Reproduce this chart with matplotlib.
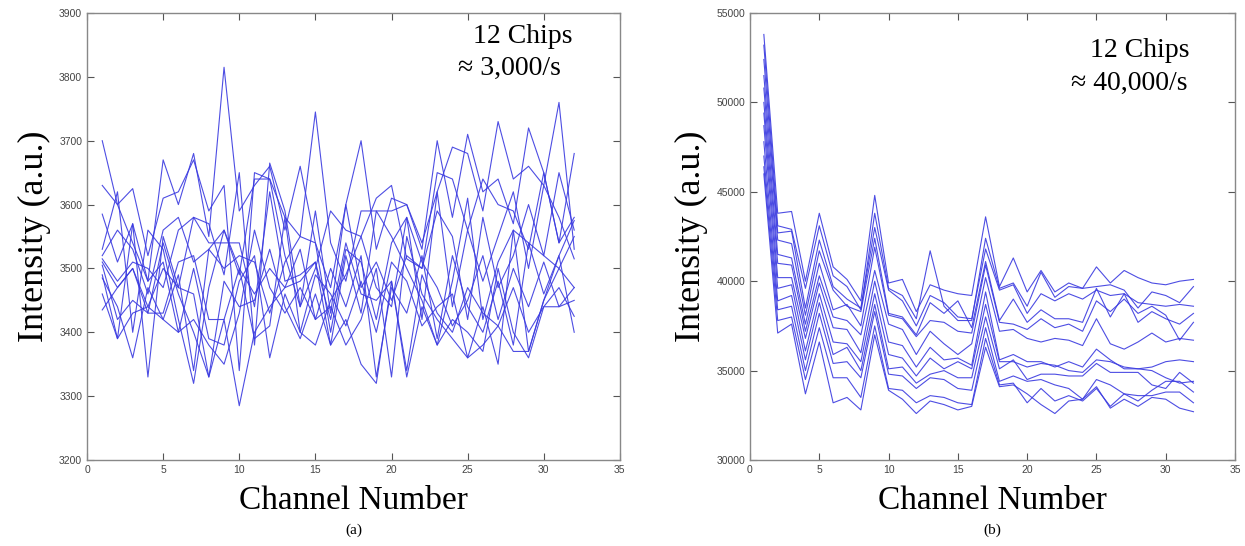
import numpy as np
import matplotlib.pyplot as plt

channels = list(range(1, 33))

# (a) 12 chips, ~3,000/s
chips_a = [
    [3700, 3600, 3540, 3480, 3670, 3600, 3680, 3550, 3815, 3590, 3630, 3660, 3560, 3660, 3540, 3470, 3600, 3700, 3530, 3610, 3600, 3530, 3700, 3580, 3710, 3620, 3640, 3570, 3720, 3650, 3540, 3680],
    [3630, 3600, 3625, 3520, 3610, 3620, 3670, 3590, 3630, 3340, 3650, 3640, 3580, 3550, 3745, 3540, 3480, 3590, 3590, 3590, 3600, 3540, 3620, 3690, 3680, 3590, 3730, 3640, 3660, 3630, 3760, 3530],
    [3585, 3510, 3570, 3330, 3550, 3470, 3580, 3570, 3490, 3650, 3380, 3665, 3590, 3440, 3500, 3590, 3560, 3550, 3610, 3630, 3515, 3500, 3650, 3640, 3560, 3640, 3600, 3590, 3530, 3650, 3540, 3580],
    [3530, 3620, 3400, 3560, 3530, 3420, 3320, 3470, 3560, 3490, 3640, 3640, 3520, 3440, 3590, 3430, 3600, 3470, 3510, 3450, 3520, 3500, 3590, 3550, 3420, 3580, 3470, 3520, 3600, 3520, 3650, 3560],
    [3520, 3560, 3530, 3460, 3560, 3580, 3510, 3530, 3500, 3520, 3510, 3430, 3510, 3550, 3540, 3400, 3530, 3510, 3420, 3540, 3580, 3420, 3620, 3440, 3560, 3480, 3550, 3620, 3500, 3630, 3580, 3515],
    [3515, 3480, 3510, 3500, 3470, 3560, 3580, 3540, 3540, 3540, 3440, 3620, 3480, 3490, 3510, 3380, 3520, 3430, 3590, 3550, 3500, 3450, 3380, 3480, 3610, 3420, 3510, 3560, 3540, 3520, 3500, 3470],
    [3510, 3470, 3500, 3430, 3430, 3510, 3520, 3420, 3420, 3500, 3390, 3410, 3580, 3400, 3380, 3450, 3490, 3550, 3470, 3440, 3580, 3510, 3470, 3410, 3450, 3520, 3420, 3500, 3440, 3510, 3440, 3450],
    [3490, 3390, 3570, 3480, 3510, 3400, 3500, 3390, 3380, 3480, 3520, 3360, 3460, 3400, 3490, 3460, 3410, 3480, 3400, 3510, 3480, 3410, 3440, 3460, 3360, 3440, 3350, 3560, 3370, 3450, 3520, 3400],
    [3485, 3440, 3360, 3470, 3420, 3490, 3340, 3530, 3560, 3500, 3460, 3500, 3470, 3530, 3420, 3500, 3440, 3520, 3330, 3470, 3430, 3520, 3390, 3520, 3440, 3400, 3480, 3380, 3540, 3460, 3520, 3575],
    [3435, 3470, 3500, 3440, 3500, 3470, 3460, 3330, 3420, 3285, 3400, 3440, 3470, 3480, 3510, 3420, 3540, 3460, 3450, 3480, 3340, 3490, 3430, 3400, 3470, 3430, 3410, 3470, 3400, 3440, 3470, 3425],
    [3505, 3420, 3450, 3430, 3540, 3460, 3400, 3330, 3480, 3440, 3450, 3530, 3440, 3390, 3460, 3380, 3420, 3350, 3320, 3480, 3330, 3440, 3380, 3420, 3400, 3370, 3500, 3400, 3360, 3440, 3440, 3470],
    [3460, 3390, 3430, 3440, 3420, 3400, 3420, 3380, 3350, 3430, 3560, 3470, 3430, 3470, 3420, 3440, 3380, 3420, 3500, 3330, 3550, 3460, 3420, 3390, 3360, 3380, 3410, 3370, 3370, 3450, 3500, 3550],
]

# (b) 12 chips, ~40,000/s
chips_b = [
    [53800, 43800, 43900, 40000, 43800, 40800, 40100, 38900, 44800, 39900, 40100, 38300, 39800, 39500, 39300, 39200, 43600, 39700, 41300, 39400, 40600, 39400, 39900, 39600, 40800, 39900, 40600, 40200, 39900, 39800, 40000, 40100],
    [53200, 43100, 42900, 39600, 43100, 40300, 39700, 38400, 43800, 39600, 39200, 37900, 41700, 38600, 37800, 37800, 42400, 39600, 39900, 38600, 40500, 39100, 39700, 39600, 39700, 39800, 39500, 38500, 39400, 39200, 38800, 39700],
    [52400, 42700, 42800, 38500, 42300, 39700, 39000, 38500, 43000, 39500, 38900, 37500, 39200, 38800, 38000, 37900, 41800, 39500, 39800, 38200, 39300, 38900, 39300, 39000, 39500, 39200, 39300, 38800, 38700, 38600, 38700, 38600],
    [51500, 42300, 42100, 38100, 41700, 39500, 38600, 38300, 42400, 38200, 38000, 37000, 38800, 38200, 38900, 37400, 41100, 37800, 39000, 37700, 38400, 37900, 37900, 37700, 39600, 38000, 39300, 37700, 38300, 37900, 37600, 38200],
    [50800, 41500, 41300, 37600, 41000, 38400, 38700, 37500, 41900, 38100, 37900, 36900, 37800, 37700, 37200, 37100, 40900, 37700, 37600, 37300, 37900, 37400, 37600, 37200, 38900, 38300, 39000, 38200, 38600, 38100, 36700, 37700],
    [50000, 41000, 40900, 37200, 40300, 38000, 37800, 37000, 40600, 37600, 37300, 35900, 37200, 36500, 35900, 36500, 40200, 37200, 37300, 36800, 36600, 36800, 36700, 36400, 37900, 36500, 36200, 36600, 37100, 36600, 36800, 36700],
    [49400, 40200, 40200, 36800, 39900, 37400, 37300, 36000, 40000, 36600, 36400, 35200, 36300, 35600, 35700, 35300, 39400, 35600, 35900, 35500, 35500, 35200, 35500, 35200, 36200, 35600, 35100, 35100, 35200, 35500, 35600, 35500],
    [48700, 39600, 39800, 36100, 39300, 36600, 36500, 35500, 39300, 35900, 35700, 34700, 35700, 35100, 35500, 35100, 38700, 35500, 35500, 35200, 35400, 35300, 35000, 34900, 35600, 35500, 35200, 35100, 35000, 34600, 34300, 34400],
    [47800, 38900, 39200, 35600, 38800, 35900, 36300, 35000, 38700, 35100, 35200, 34300, 34800, 35000, 34600, 34600, 38000, 35100, 35600, 34500, 34800, 34800, 34700, 34700, 35400, 34900, 34900, 34900, 34200, 34000, 34900, 34300],
    [47000, 38400, 38600, 35000, 38200, 35400, 35500, 34600, 38300, 34800, 34700, 34000, 34600, 34500, 34000, 33900, 37400, 34400, 34700, 34400, 34500, 34200, 34000, 33400, 34500, 34200, 33700, 33600, 33600, 33800, 33800, 33200],
    [46400, 37800, 38000, 34500, 37400, 34600, 34600, 33500, 37500, 34000, 33900, 33200, 33600, 33500, 33200, 33100, 36800, 34200, 34300, 33200, 34000, 33300, 33600, 33300, 34000, 33000, 33700, 33300, 33900, 34400, 34400, 33800],
    [46000, 37100, 37600, 33700, 36600, 33200, 33500, 32800, 37000, 33900, 33400, 32600, 33300, 33100, 32800, 33000, 36300, 34100, 34200, 33700, 33100, 32600, 33300, 33400, 34100, 32900, 33400, 33000, 33500, 33400, 32900, 32700],
]

serif = ['Liberation Serif', 'DejaVu Serif']
line_col = '#3a3ae0'

fig = plt.figure(figsize=(12.45, 5.46), dpi=100)
ax1 = fig.add_axes([0.0699, 0.1575, 0.428, 0.8187])
ax2 = fig.add_axes([0.6024, 0.1575, 0.3896, 0.8187])


def style_axes(ax, ylim, ystep, notes, letter):
    ax.set_xlim(0, 35)
    ax.set_ylim(*ylim)
    ax.set_xticks(np.arange(0, 36, 5))
    ax.set_yticks(np.arange(ylim[0], ylim[1] + 1, ystep))
    ax.tick_params(direction='in', top=True, right=True, length=5, width=0.8,
                   colors='#555555', labelsize=7.5, labelcolor='#444444')
    for s in ax.spines.values():
        s.set_color('#888888')
        s.set_linewidth(1.0)
    for lab in ax.get_xticklabels() + ax.get_yticklabels():
        lab.set_family('Liberation Sans')
    ax.set_xlabel('Channel Number', family=serif, fontsize=24, labelpad=8)
    ax.set_ylabel('Intensity (a.u.)', family=serif, fontsize=26, labelpad=6)
    for txt, x, y in notes:
        ax.text(x, y, txt, transform=ax.transAxes, ha='right', va='top',
                family=serif, fontsize=20)
    ax.text(0.5, -0.157, letter, transform=ax.transAxes, ha='center', va='center',
            family=serif, fontsize=11)


for row in chips_a:
    ax1.plot(channels, row, color=line_col, lw=0.8, alpha=0.9)
style_axes(ax1, (3200, 3900), 100,
           [('12 Chips', 0.912, 0.975), ('\u2248 3,000/s', 0.89, 0.905)], '(a)')

for row in chips_b:
    ax2.plot(channels, row, color=line_col, lw=0.8, alpha=0.9)
style_axes(ax2, (30000, 55000), 5000,
           [('12 Chips', 0.907, 0.945), ('\u2248 40,000/s', 0.903, 0.87)], '(b)')

fig.savefig('out.png', dpi=100)
